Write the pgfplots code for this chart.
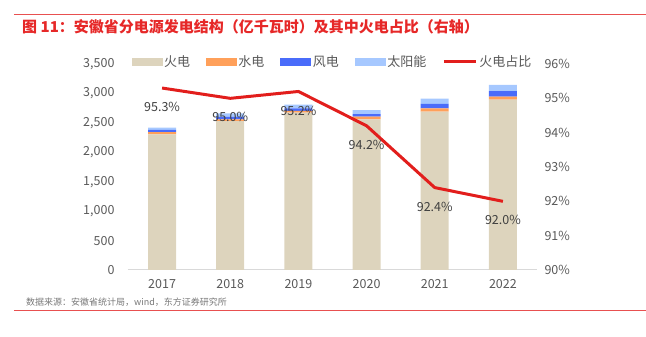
\documentclass[border=0pt]{standalone}
\usepackage{fontspec}
\setmainfont{Noto Sans CJK SC}
\usepackage{pgfplots}
\pgfplotsset{compat=1.18}
\definecolor{huo}{RGB}{221,212,189}
\definecolor{shui}{RGB}{255,160,90}
\definecolor{feng}{RGB}{74,108,250}
\definecolor{tai}{RGB}{166,200,255}
\definecolor{lred}{RGB}{226,30,28}
\definecolor{tred}{RGB}{230,40,40}
\definecolor{rule}{RGB}{232,80,80}
\definecolor{tickgray}{RGB}{89,89,89}
\definecolor{lblgray}{RGB}{64,64,64}
\definecolor{srcgray}{RGB}{120,120,120}
\definecolor{axgray}{RGB}{217,217,217}
\begin{document}
\begin{tikzpicture}[x=1pt,y=1pt]
\begin{axis}[
  scale only axis,
  width=409pt, height=206pt,
  xmin=-0.5, xmax=5.5, ymin=0, ymax=3500,
  ybar stacked, bar width=28pt,
  xtick={0,...,5}, xticklabels={2017,2018,2019,2020,2021,2022},
  ytick={0,500,...,3500},
  axis x line*=bottom, axis y line*=left,
  y axis line style={draw=none},
  x axis line style={draw=axgray, line width=1pt},
  major tick length=0pt,
  tick label style={text=tickgray, font=\fontsize{12.5}{14}\selectfont},
  yticklabel style={xshift=-10pt},
  xticklabel style={yshift=-6pt},
  /pgf/number format/assume math mode=true,
  /pgf/number format/1000 sep={,},
  scaled y ticks=false,
]
\coordinate (O) at (rel axis cs:0,0);
\addplot[fill=huo, draw=none] coordinates {(0,2303) (1,2530) (2,2673) (3,2559) (4,2690) (5,2895)};
\addplot[fill=shui, draw=none] coordinates {(0,40) (1,30) (2,30) (3,45) (4,58) (5,51)};
\addplot[fill=feng, draw=none] coordinates {(0,37) (1,40) (2,45) (3,45) (4,73) (5,91)};
\addplot[fill=tai, draw=none] coordinates {(0,37) (1,63) (2,60) (3,68) (4,90) (5,110)};
\end{axis}

\begin{axis}[
  scale only axis,
  width=409pt, height=206pt,
  xmin=-0.5, xmax=5.5, ymin=90, ymax=96,
  ytick={90,...,96},
  axis x line=none, axis y line*=right,
  y axis line style={draw=none},
  major tick length=0pt,
  yticklabel={\pgfmathprintnumber{\tick}\%},
  tick label style={text=tickgray, font=\fontsize{12.5}{14}\selectfont},
  yticklabel style={xshift=4pt},
  /pgf/number format/assume math mode=true,
  legend style={at={(0.5,1.01)}, anchor=center, draw=none, fill=none,
    legend columns=5, font=\fontsize{13}{15}\selectfont, text=tickgray,
    /tikz/every even column/.append style={column sep=14pt},
    cells={anchor=west}, inner sep=0pt},
]
\addlegendimage{legend image code/.code={\fill[huo] (0pt,-3.5pt) rectangle (30pt,3.5pt);}}
\addlegendentry{火电}
\addlegendimage{legend image code/.code={\fill[shui] (0pt,-3.5pt) rectangle (30pt,3.5pt);}}
\addlegendentry{水电}
\addlegendimage{legend image code/.code={\fill[feng] (0pt,-3.5pt) rectangle (30pt,3.5pt);}}
\addlegendentry{风电}
\addlegendimage{legend image code/.code={\fill[tai] (0pt,-3.5pt) rectangle (30pt,3.5pt);}}
\addlegendentry{太阳能}
\addplot[lred, line width=3pt, line join=round, mark=none,
  legend image code/.code={\draw[lred, line width=3pt] (0pt,0pt) -- (32pt,0pt);},
  nodes near coords={\pgfmathprintnumber[fixed,fixed zerofill,precision=1]{\pgfplotspointmeta}\%},
  point meta=y,
  every node near coord/.append style={anchor=center, yshift=-19pt, text=lblgray, font=\fontsize{12.5}{14}\selectfont},
] coordinates {(0,95.3) (1,95.0) (2,95.2) (3,94.2) (4,92.4) (5,92.0)};
\addlegendentry{火电占比}
\end{axis}

\pgfresetboundingbox
\begin{scope}[shift={(O)}, xshift=-128pt, yshift=-67pt]
\useasboundingbox (0,0) rectangle (646,337);
\draw[rule, line width=1pt] (14,322) -- (646,322);
\node[anchor=west, text=tred, font=\fontsize{15}{17}\selectfont\bfseries, inner sep=0pt] at (22,310) {图 11：安徽省分电源发电结构（亿千瓦时）及其中火电占比（右轴）};
\node[anchor=west, text=srcgray, font=\fontsize{9}{11}\selectfont, inner sep=0pt] at (26,35) {数据来源：安徽省统计局，wind，东方证券研究所};
\draw[rule, line width=0.8pt] (14,27) -- (646,27);
\end{scope}
\end{tikzpicture}
\end{document}
